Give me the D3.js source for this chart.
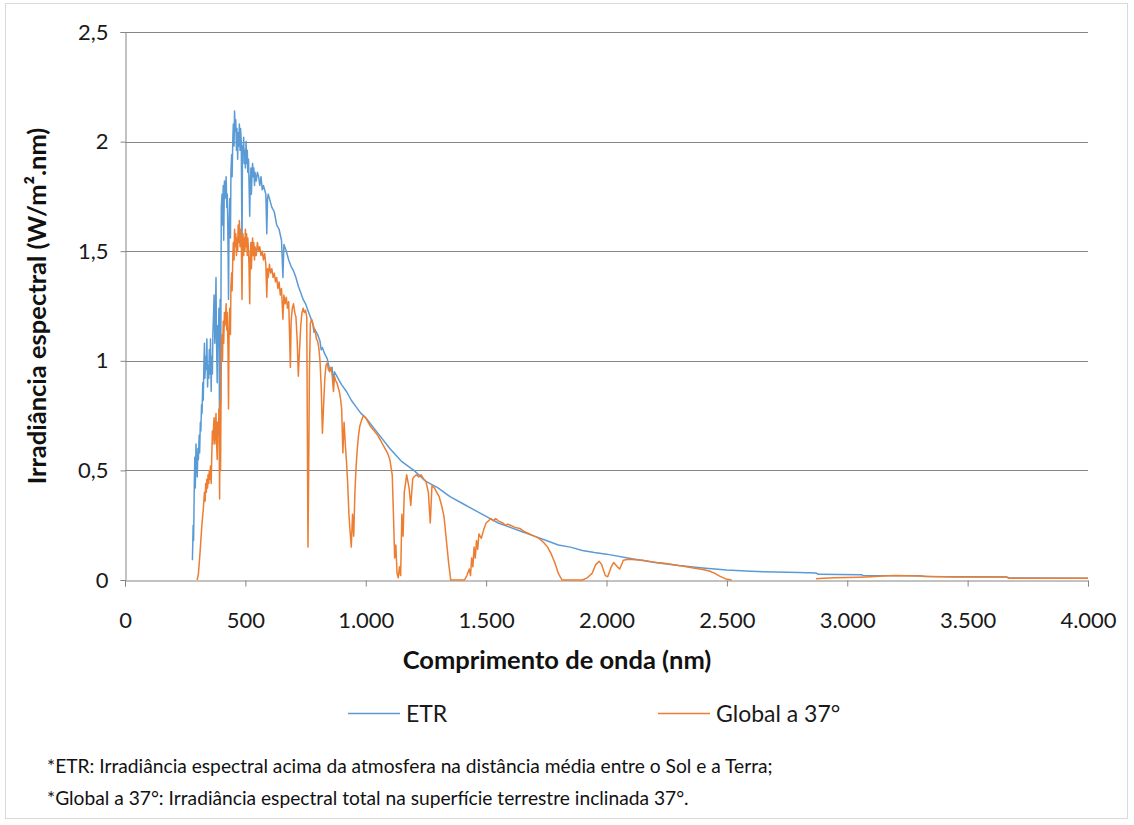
<!DOCTYPE html>
<html>
<head>
<meta charset="utf-8">
<script src="https://cdn.jsdelivr.net/npm/d3@7"></script>
<style>
  body { margin: 0; background: #fff; }
  svg { display: block; font-family: Lato, "Open Sans", sans-serif; }
</style>
</head>
<body>
<svg id="chart" width="1134" height="825"></svg>
<script>
// data: [wavelength nm, irradiance W/m2.nm]
var etr = [
  [280,0.09],[283,0.25],[285,0.18],[288,0.45],[290,0.56],[292,0.42],[295,0.62],[298,0.52],
  [300,0.47],[303,0.60],[305,0.55],[308,0.66],[310,0.58],[313,0.72],[315,0.68],[318,0.80],
  [320,0.76],[323,0.90],[325,0.82],[328,1.00],[330,1.08],[332,0.92],[335,1.02],[338,0.96],
  [340,1.10],[343,0.88],[345,0.98],[348,0.92],[350,1.05],[353,0.94],[355,1.10],[358,0.86],
  [360,1.02],[363,0.94],[365,1.12],[368,1.22],[370,1.30],[373,1.08],[375,1.18],[378,1.38],
  [380,1.10],[383,0.90],[385,1.16],[388,1.06],[390,1.24],[393,0.62],[395,1.28],[397,0.80],
  [400,1.70],[403,1.76],[405,1.62],[408,1.80],[410,1.55],[413,1.82],[415,1.74],[418,1.78],
  [420,1.84],[423,1.70],[425,1.76],[428,1.52],[430,1.28],[432,1.60],[435,1.74],[438,1.56],
  [440,1.86],[443,1.94],[445,1.84],[448,2.02],[450,2.08],[453,1.98],[455,2.14],[458,2.05],
  [460,2.10],[463,1.96],[465,2.06],[468,1.92],[470,2.04],[473,1.98],[475,2.08],[478,1.96],
  [480,2.06],[483,2.00],[486,1.48],[488,1.98],[490,1.94],[493,2.02],[495,1.90],[498,1.96],
  [500,1.88],[503,2.00],[505,1.90],[508,1.96],[510,1.86],[513,1.92],[515,1.82],[518,1.66],
  [520,1.80],[523,1.88],[525,1.76],[528,1.86],[530,1.90],[533,1.84],[535,1.88],[538,1.80],
  [540,1.86],[545,1.82],[550,1.86],[555,1.84],[560,1.80],[565,1.84],[570,1.78],[575,1.80],
  [580,1.78],[585,1.76],[589,1.58],[592,1.74],[595,1.76],[600,1.74],[610,1.70],[620,1.68],
  [630,1.62],[640,1.60],[650,1.55],[656,1.38],[660,1.53],[670,1.50],[680,1.46],[690,1.43],
  [700,1.41],[710,1.38],[720,1.34],[730,1.31],[740,1.28],[750,1.26],[760,1.23],[770,1.20],
  [780,1.17],[785,1.13],[790,1.14],[800,1.12],[810,1.09],[815,1.05],[820,1.06],[830,1.03],
  [840,1.01],[850,0.96],[860,0.97],[866,0.90],[870,0.95],[880,0.93],[890,0.91],[900,0.89],
  [920,0.86],[940,0.82],[960,0.79],[980,0.76],[1000,0.74],[1050,0.67],[1100,0.60],
  [1150,0.54],[1200,0.50],[1250,0.45],[1300,0.42],[1350,0.38],[1400,0.35],[1450,0.32],
  [1500,0.29],[1550,0.26],[1600,0.24],[1650,0.22],[1700,0.20],[1750,0.18],[1800,0.16],
  [1850,0.15],[1900,0.135],[1950,0.125],[2000,0.118],[2100,0.098],[2200,0.080],[2300,0.066],
  [2400,0.055],[2500,0.046],[2600,0.040],[2700,0.036],[2800,0.034],[2870,0.032],[2880,0.026],
  [3060,0.024],[3065,0.021],[3300,0.019],[3320,0.016],[3660,0.014],[3675,0.009],[4000,0.008]
];

var global37 = [
  [300,0.00],[305,0.03],[310,0.10],[315,0.18],[320,0.26],[325,0.32],[330,0.40],[333,0.36],
  [335,0.44],[338,0.40],[340,0.46],[343,0.42],[345,0.48],[348,0.44],[350,0.50],[353,0.46],
  [355,0.52],[358,0.44],[360,0.55],[363,0.68],[365,0.62],[368,0.70],[370,0.74],[373,0.62],
  [375,0.68],[378,0.76],[380,0.64],[383,0.55],[385,0.72],[388,0.66],[390,0.78],[393,0.37],
  [395,0.82],[397,0.50],[400,1.02],[403,1.12],[405,1.00],[408,1.18],[410,1.08],[413,1.22],
  [415,1.16],[418,1.20],[420,1.26],[423,1.14],[425,1.22],[428,1.04],[430,0.78],[432,1.10],
  [435,1.24],[438,1.12],[440,1.34],[443,1.40],[445,1.32],[448,1.48],[450,1.54],[453,1.46],
  [455,1.60],[458,1.52],[460,1.58],[463,1.48],[465,1.56],[468,1.50],[470,1.62],[473,1.54],
  [475,1.64],[478,1.52],[480,1.60],[483,1.56],[486,1.28],[488,1.52],[490,1.58],[493,1.48],
  [495,1.56],[498,1.50],[500,1.60],[503,1.52],[505,1.58],[508,1.48],[510,1.56],[513,1.50],
  [515,1.44],[518,1.26],[520,1.46],[523,1.54],[525,1.42],[528,1.52],[530,1.56],[533,1.48],
  [535,1.54],[538,1.46],[540,1.52],[545,1.48],[550,1.54],[555,1.50],[560,1.52],[565,1.48],
  [570,1.50],[575,1.46],[580,1.49],[585,1.44],[589,1.29],[592,1.42],[595,1.38],[600,1.44],
  [605,1.40],[610,1.42],[615,1.38],[620,1.40],[625,1.36],[630,1.38],[635,1.33],[640,1.36],
  [645,1.30],[650,1.33],[656,1.19],[660,1.30],[665,1.26],[670,1.29],[675,1.24],[680,1.27],
  [687,0.97],[690,1.18],[695,1.24],[700,1.26],[705,1.22],[710,1.20],[715,1.10],[720,0.93],
  [725,1.05],[730,1.16],[735,1.22],[740,1.24],[745,1.22],[750,1.23],[755,1.20],[760,0.15],
  [763,0.50],[766,0.95],[770,1.17],[775,1.19],[780,1.17],[785,1.15],[790,1.14],[795,1.10],
  [800,1.09],[805,1.06],[810,1.00],[815,0.88],[820,0.67],[825,0.80],[830,0.92],[835,0.98],
  [840,0.99],[845,0.96],[850,0.95],[855,0.97],[860,0.94],[866,0.86],[870,0.93],[875,0.91],
  [880,0.90],[885,0.88],[890,0.86],[895,0.83],[900,0.78],[905,0.58],[910,0.72],[915,0.62],
  [920,0.54],[925,0.44],[930,0.30],[935,0.22],[940,0.15],[945,0.30],[950,0.20],[955,0.40],
  [960,0.52],[965,0.60],[970,0.66],[975,0.70],[980,0.72],[990,0.75],[1000,0.74],[1020,0.70],
  [1050,0.66],[1070,0.62],[1090,0.58],[1100,0.55],[1110,0.48],[1115,0.30],[1120,0.10],
  [1125,0.16],[1130,0.03],[1135,0.01],[1140,0.06],[1145,0.02],[1150,0.30],[1155,0.20],
  [1160,0.40],[1165,0.44],[1170,0.48],[1180,0.42],[1187,0.34],[1195,0.46],[1200,0.47],
  [1210,0.48],[1220,0.47],[1230,0.48],[1240,0.46],[1250,0.45],[1260,0.40],[1268,0.26],
  [1275,0.43],[1285,0.42],[1295,0.40],[1305,0.38],[1315,0.34],[1325,0.29],[1335,0.18],
  [1345,0.07],[1353,0.00],[1410,0.00],[1420,0.02],[1430,0.05],[1435,0.02],[1440,0.10],
  [1445,0.06],[1450,0.15],[1455,0.10],[1460,0.18],[1465,0.14],[1470,0.21],[1480,0.19],
  [1490,0.23],[1500,0.26],[1510,0.27],[1520,0.28],[1530,0.27],[1540,0.28],[1550,0.27],
  [1560,0.265],[1570,0.26],[1580,0.25],[1590,0.255],[1600,0.25],[1620,0.24],[1640,0.235],
  [1660,0.22],[1680,0.21],[1700,0.20],[1720,0.19],[1740,0.17],[1755,0.15],[1770,0.12],
  [1785,0.08],[1800,0.03],[1815,0.00],[1900,0.00],[1920,0.01],[1940,0.03],[1955,0.07],
  [1970,0.085],[1980,0.07],[1995,0.02],[2005,0.015],[2020,0.06],[2030,0.08],[2045,0.06],
  [2055,0.05],[2070,0.09],[2090,0.095],[2120,0.092],[2150,0.09],[2180,0.085],[2210,0.08],
  [2240,0.076],[2280,0.07],[2320,0.063],[2360,0.055],[2400,0.048],[2430,0.04],[2450,0.03],
  [2470,0.018],[2495,0.005],[2520,0.00],[2700,null],
  [2870,0.006],[2900,0.008],[2950,0.010],[3000,0.011],[3050,0.013],[3100,0.015],[3150,0.018],
  [3200,0.020],[3250,0.019],[3300,0.018],[3350,0.016],[3400,0.015],[3450,0.014],[3500,0.014],
  [3600,0.014],[3660,0.014],[3672,0.008],[4000,0.008]
];

var xTicks = [0, 500, 1000, 1500, 2000, 2500, 3000, 3500, 4000],
    yTicks = [0, 0.5, 1, 1.5, 2, 2.5];

var seriesNames = ['ETR', 'Global a 37°'],
    seriesColors = ['#5b9bd5', '#ed7d31'];

var notes = [
  '*ETR: Irradiância espectral acima da atmosfera na distância média entre o Sol e a Terra;',
  '*Global a 37°: Irradiância espectral total na superfície terrestre inclinada 37°.'
];

var svg = d3.select('#chart'),
    gridColor = '#868686',
    plotLeft = 125, plotRight = 1088, plotTop = 32, plotBottom = 580;

var x = d3.scaleLinear().domain([0, 4000]).range([plotLeft, plotRight]),
    y = d3.scaleLinear().domain([0, 2.5]).range([plotBottom, plotTop]);

// outer frame
svg.append('rect')
    .attr('x', 5.5).attr('y', 3.5)
    .attr('width', 1122).attr('height', 815)
    .attr('fill', 'none')
    .attr('stroke', '#d9d9d9');

// horizontal gridlines
svg.append('g').selectAll('line').data(yTicks.slice(1)).enter()
  .append('line')
    .attr('x1', plotLeft).attr('x2', plotRight)
    .attr('y1', function(d) { return Math.round(y(d)) + 0.5; })
    .attr('y2', function(d) { return Math.round(y(d)) + 0.5; })
    .attr('stroke', gridColor);

// axes
var fmt = function(d) { return d3.format(',')(d).replace(/,/g, '.'); };

var xAxis = svg.append('g')
    .attr('transform', 'translate(0,' + (plotBottom + 0.5) + ')')
    .call(d3.axisBottom(x).tickValues(xTicks).tickSize(6).tickPadding(26).tickFormat(fmt));

var yAxis = svg.append('g')
    .attr('transform', 'translate(' + (plotLeft + 0.5) + ',0)')
    .call(d3.axisLeft(y).tickValues(yTicks).tickSize(5).tickPadding(12)
      .tickFormat(function(d) { return String(d).replace('.', ','); }));

[xAxis, yAxis].forEach(function(a) {
    a.select('.domain').attr('stroke', gridColor);
    a.selectAll('.tick line').attr('stroke', gridColor);
    a.selectAll('.tick text')
        .attr('fill', '#1a1a1a')
        .style('font-family', 'Lato, sans-serif')
        .style('font-size', '22px');
});

// series
var line = d3.line()
    .defined(function(d) { return d[1] !== null; })
    .x(function(d) { return x(d[0]); })
    .y(function(d) { return y(d[1]); });

svg.append('g').selectAll('path').data([etr, global37]).enter()
  .append('path')
    .attr('d', line)
    .attr('fill', 'none')
    .attr('stroke', function(d, i) { return seriesColors[i]; })
    .attr('stroke-width', 1.5)
    .attr('stroke-linejoin', 'round');

// axis titles
svg.append('text')
    .attr('x', 557).attr('y', 669)
    .attr('text-anchor', 'middle')
    .style('font-size', '25.5px').style('font-weight', 'bold')
    .attr('fill', '#111')
    .text('Comprimento de onda (nm)');

svg.append('text')
    .attr('transform', 'translate(46,' + (plotTop + plotBottom) / 2 + ') rotate(-90)')
    .attr('text-anchor', 'middle')
    .style('font-size', '25.5px').style('font-weight', 'bold')
    .attr('fill', '#111')
    .text('Irradiância espectral (W/m².nm)');

// legend
var legendX = [348, 658];
var legend = svg.append('g').selectAll('g').data(seriesNames).enter()
  .append('g')
    .attr('transform', function(d, i) { return 'translate(' + legendX[i] + ',713)'; });
legend.append('line')
    .attr('x1', 0).attr('x2', 52).attr('y1', 0.5).attr('y2', 0.5)
    .attr('stroke', function(d, i) { return seriesColors[i]; })
    .attr('stroke-width', 1.5);
legend.append('text')
    .attr('x', 58).attr('y', 8.5)
    .style('font-size', '23px').attr('fill', '#1a1a1a')
    .text(function(d) { return d; });

// footnotes
svg.append('g').selectAll('text').data(notes).enter()
  .append('text')
    .attr('x', 47)
    .attr('y', function(d, i) { return 773 + i * 32; })
    .style('font-size', '19.2px').attr('fill', '#111')
    .text(function(d) { return d; });
</script>
</body>
</html>
